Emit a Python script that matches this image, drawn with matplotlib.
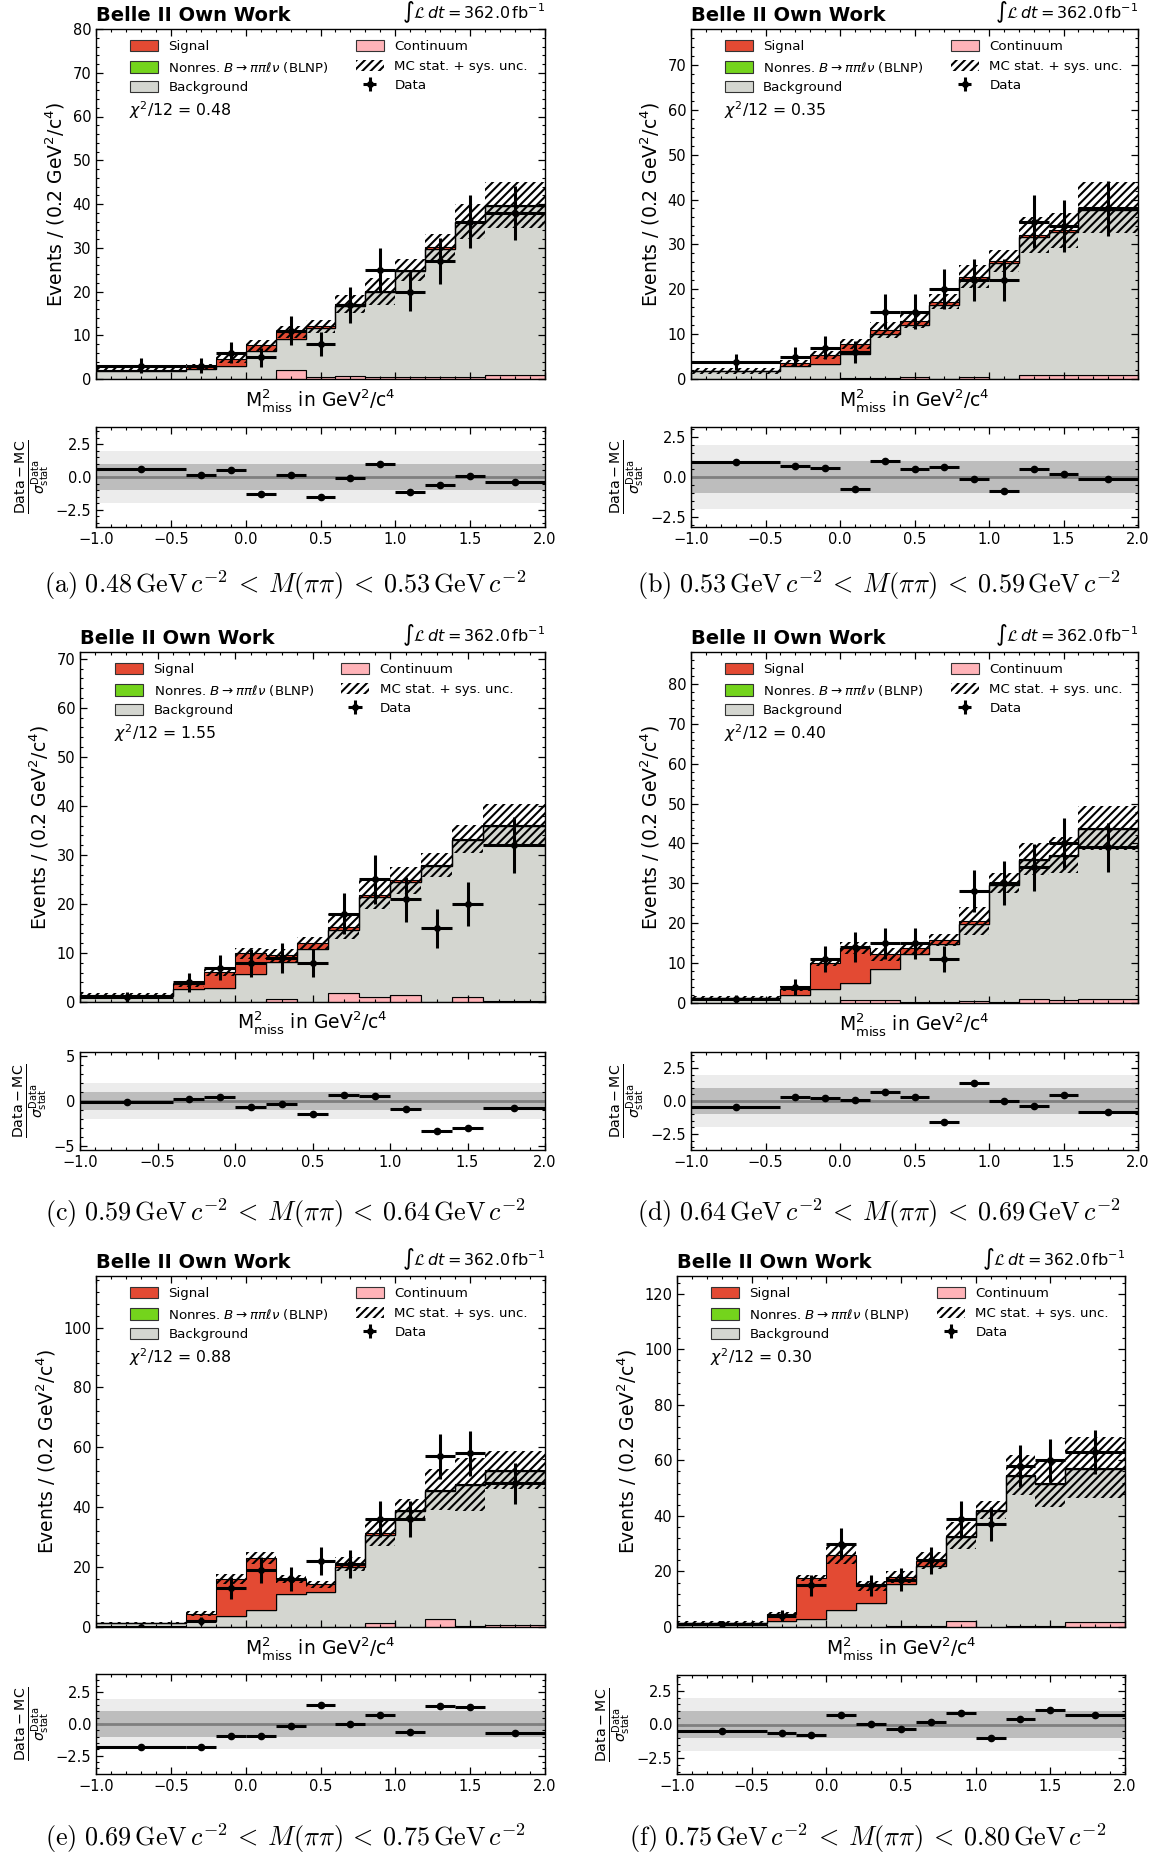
import numpy as np
import matplotlib
matplotlib.use("Agg")
import matplotlib.pyplot as plt
from matplotlib.patches import Patch
from matplotlib.ticker import MultipleLocator, AutoMinorLocator

# ---------------- data ----------------
edges = [-1.0, -0.4, -0.2, 0.0, 0.2, 0.4, 0.6, 0.8, 1.0, 1.2, 1.4, 1.6, 2.0]
panel_tags = ["(a)", "(b)", "(c)", "(d)", "(e)", "(f)"]
mpp_low = ["0.48", "0.53", "0.59", "0.64", "0.69", "0.75"]
mpp_high = ["0.53", "0.59", "0.64", "0.69", "0.75", "0.80"]
chi2_text = ["0.48", "0.35", "1.55", "0.40", "0.88", "0.30"]
nonres = [0.0] * 12

cont_a = [0.0, 0.0, 0.0, 0.1, 2.0, 0.5, 0.7, 0.4, 0.4, 0.5, 0.5, 1.0]
bkg_a = [1.9, 2.3, 3.0, 6.2, 7.1, 11.1, 16.1, 19.4, 24.2, 29.3, 35.3, 38.5]
sig_a = [0.2, 0.5, 1.6, 1.4, 1.6, 0.5, 0.3, 0.3, 0.3, 0.3, 0.2, 0.2]
unc_a = [0.6, 0.6, 1.0, 1.2, 1.4, 1.5, 2.1, 3.1, 2.6, 3.1, 4.0, 5.3]
data_a = [3, 3, 6, 5, 11, 8, 17, 25, 20, 27, 36, 38]
derr_a = [1.7, 1.7, 2.4, 2.2, 3.3, 2.8, 4.1, 5.0, 4.5, 5.2, 6.0, 6.2]
pull_a = [0.62, 0.13, 0.57, -1.29, 0.13, -1.55, -0.05, 1.0, -1.13, -0.62, 0.05, -0.36]

cont_b = [0.1, 0.0, 0.05, 0.2, 0.3, 0.4, 0.1, 0.4, 0.1, 0.8, 0.8, 0.8]
bkg_b = [1.6, 2.9, 3.4, 5.4, 9.7, 11.6, 16.4, 21.8, 25.7, 30.9, 32.0, 36.9]
sig_b = [0.1, 0.6, 2.0, 2.2, 0.9, 0.9, 0.7, 0.6, 0.5, 0.4, 0.3, 0.5]
unc_b = [0.7, 0.7, 0.9, 1.2, 1.7, 1.6, 1.7, 2.5, 2.5, 4.0, 3.8, 5.7]
data_b = [3.7, 5, 7, 6, 15, 15, 20, 22, 22, 35, 34, 38]
derr_b = [1.8, 2.2, 2.6, 2.4, 3.9, 3.9, 4.5, 4.7, 4.7, 5.9, 5.8, 6.2]
pull_b = [0.92, 0.67, 0.59, -0.76, 1.01, 0.48, 0.61, -0.1, -0.9, 0.5, 0.19, -0.1]

cont_c = [0.0, 0.0, 0.0, 0.1, 0.7, 0.1, 1.9, 1.0, 1.4, 0.1, 1.1, 0.2]
bkg_c = [1.3, 2.7, 2.9, 5.6, 7.4, 10.8, 12.7, 20.4, 23.0, 27.6, 32.0, 35.7]
sig_c = [0.05, 1.0, 3.2, 4.2, 1.4, 1.1, 0.8, 0.5, 0.4, 0.3, 0.2, 0.2]
unc_c = [0.4, 0.6, 0.8, 1.2, 1.3, 1.2, 2.6, 3.0, 2.8, 2.4, 2.9, 4.25]
data_c = [1, 4, 7, 8, 9, 8, 18, 25, 21, 15, 20, 32]
derr_c = [1.0, 2.0, 2.6, 2.8, 3.0, 2.8, 4.2, 5.0, 4.6, 3.9, 4.5, 5.7]
pull_c = [-0.15, 0.19, 0.41, -0.68, -0.34, -1.47, 0.64, 0.6, -0.86, -3.35, -2.97, -0.79]

cont_d = [0.0, 0.0, 0.0, 0.8, 0.8, 0.2, 0.2, 0.4, 0.2, 1.0, 0.7, 1.1]
bkg_d = [1.2, 1.9, 3.6, 4.1, 7.8, 12.0, 14.7, 19.5, 29.3, 34.8, 36.1, 42.4]
sig_d = [0.05, 1.7, 6.5, 9.0, 3.6, 1.5, 1.0, 0.7, 0.6, 0.4, 0.3, 0.3]
unc_d = [0.5, 0.7, 0.8, 1.5, 1.6, 1.4, 1.5, 3.5, 2.4, 4.0, 4.4, 5.5]
data_d = [1, 4, 11, 14, 15, 15, 11, 28, 30, 34, 40, 39]
derr_d = [1.0, 2.0, 3.3, 3.7, 3.9, 3.9, 3.3, 5.3, 5.5, 5.8, 6.3, 6.2]
pull_d = [-0.48, 0.33, 0.23, 0.08, 0.7, 0.28, -1.55, 1.38, -0.03, -0.4, 0.45, -0.8]

cont_e = [0.0, 0.0, 0.0, 0.0, 0.1, 0.0, 0.0, 1.5, 0.1, 2.7, 0.4, 0.8]
bkg_e = [1.2, 2.0, 3.7, 5.7, 10.8, 11.7, 19.9, 29.3, 38.5, 42.6, 47.0, 51.4]
sig_e = [0.1, 2.5, 12.3, 17.2, 5.1, 2.6, 1.1, 0.6, 0.6, 0.5, 0.2, 0.3]
unc_e = [0.3, 0.7, 1.6, 2.0, 1.2, 1.2, 2.3, 4.5, 3.6, 6.8, 8.8, 6.4]
data_e = [0, 2, 13, 19, 16, 22, 21, 36, 36, 57, 58, 48]
derr_e = [0.7, 1.4, 3.6, 4.4, 4.0, 4.7, 4.6, 6.0, 6.0, 7.5, 7.6, 6.9]
pull_e = [-1.82, -1.82, -0.92, -0.92, -0.16, 1.53, 0.0, 0.71, -0.6, 1.39, 1.34, -0.71]

cont_f = [0.0, 0.0, 0.0, 0.0, 0.0, 0.3, 0.4, 2.0, 0.1, 0.3, 0.3, 1.7]
bkg_f = [1.5, 2.2, 2.8, 6.2, 8.8, 15.1, 21.7, 30.3, 41.5, 54.1, 51.3, 55.3]
sig_f = [0.1, 2.5, 14.9, 19.7, 6.0, 2.6, 1.8, 0.6, 0.6, 0.4, 0.3, 0.3]
unc_f = [0.4, 0.8, 1.2, 3.2, 1.8, 2.0, 3.0, 4.9, 3.3, 7.3, 8.7, 11.0]
data_f = [1, 4, 15, 30, 15, 17, 24, 39, 37, 58, 60, 63]
derr_f = [1.0, 2.0, 3.9, 5.5, 3.9, 4.1, 4.9, 6.2, 6.1, 7.6, 7.7, 7.9]
pull_f = [-0.5, -0.65, -0.8, 0.73, 0.05, -0.33, 0.15, 0.88, -0.98, 0.43, 1.05, 0.73]

main_ymax = [80, 78, 71.4, 88, 117.2, 126.4]
main_ystep = [10, 10, 10, 10, 20, 20]
pull_ymax = [3.8, 3.15, 5.4, 3.7, 3.95, 3.67]
pull_ystep = [2.5, 2.5, 5, 2.5, 2.5, 2.5]

# ---------------- style ----------------
C_SIG = "#e34a33"
C_NONRES = "#74d41c"
C_BKG = "#d4d6d0"
C_CONT = "#ffb3b8"
plt.rcParams["hatch.linewidth"] = 1.5

W, H = 1163, 1859
fig = plt.figure(figsize=(W / 100, H / 100), dpi=100)


def rect(l, r, t, b):
    return [l / W, 1 - b / H, (r - l) / W, (b - t) / H]


main_px = [(96, 545, 29, 379), (691, 1138, 29, 379),
           (80, 545, 652, 1002), (691, 1138, 652, 1003),
           (96, 545, 1276, 1627), (677, 1125, 1276, 1627)]
pull_px = [(96, 545, 427, 527), (691, 1138, 427, 527),
           (80, 545, 1052, 1150), (691, 1138, 1052, 1150),
           (96, 545, 1674, 1774), (677, 1125, 1675, 1774)]
cap_px = [(285, 585), (879, 585), (285, 1213), (879, 1213), (285, 1838), (868, 1838)]

panels = [
    (cont_a, bkg_a, sig_a, unc_a, data_a, derr_a, pull_a),
    (cont_b, bkg_b, sig_b, unc_b, data_b, derr_b, pull_b),
    (cont_c, bkg_c, sig_c, unc_c, data_c, derr_c, pull_c),
    (cont_d, bkg_d, sig_d, unc_d, data_d, derr_d, pull_d),
    (cont_e, bkg_e, sig_e, unc_e, data_e, derr_e, pull_e),
    (cont_f, bkg_f, sig_f, unc_f, data_f, derr_f, pull_f),
]

e = np.array(edges)
centers = 0.5 * (e[1:] + e[:-1])
halfw = 0.5 * (e[1:] - e[:-1])
HATCH = "////"


def style_ticks(ax):
    ax.tick_params(which="both", direction="in", top=True, right=True)
    ax.tick_params(which="major", length=5, width=0.9, labelsize=10.5)
    ax.tick_params(which="minor", length=2.5, width=0.8)
    ax.xaxis.set_major_locator(MultipleLocator(0.5))
    ax.xaxis.set_minor_locator(MultipleLocator(0.1))
    for s in ax.spines.values():
        s.set_linewidth(1.0)


for i, (cont, bkg, sig, unc, data, derr, pull) in enumerate(panels):
    cont = np.array(cont); bkg = np.array(bkg); sig = np.array(sig)
    nr = np.array(nonres)
    ax = fig.add_axes(rect(*main_px[i]))
    l0 = cont
    l1 = l0 + bkg
    l2 = l1 + nr
    l3 = l2 + sig
    ekw = dict(edgecolor="black", linewidth=0.8)
    ax.stairs(l0, edges, baseline=0, fill=True, facecolor=C_CONT, **ekw)
    ax.stairs(l1, edges, baseline=l0, fill=True, facecolor=C_BKG, **ekw)
    ax.stairs(l2, edges, baseline=l1, fill=True, facecolor=C_NONRES, **ekw)
    ax.stairs(l3, edges, baseline=l2, fill=True, facecolor=C_SIG, **ekw)
    u = np.array(unc)
    ax.stairs(l3 + u, edges, baseline=l3 - u, fill=True, facecolor="none",
              edgecolor="black", linewidth=0, hatch=HATCH)
    eb = ax.errorbar(centers, data, xerr=halfw, yerr=derr, fmt="o", color="black",
                     ms=4, elinewidth=2.2, capsize=0, label="Data")
    ax.set_xlim(-1, 2)
    ax.set_ylim(0, main_ymax[i])
    style_ticks(ax)
    ax.yaxis.set_major_locator(MultipleLocator(main_ystep[i]))
    ax.yaxis.set_minor_locator(AutoMinorLocator(5))
    ax.tick_params(labelbottom=False)
    ax.set_ylabel(r"Events / (0.2 GeV$^2$/c$^4$)", fontsize=13.5)
    ax.set_xlabel(r"M$^2_\mathrm{miss}$ in GeV$^2$/c$^4$", fontsize=13.5, labelpad=2)
    ax.text(0.0, 1.012, "Belle II Own Work", transform=ax.transAxes, fontsize=14,
            fontweight="bold", ha="left", va="bottom")
    ax.text(1.0, 1.012, r"$\int\mathcal{L}\,dt = 362.0\,\mathrm{fb}^{-1}$",
            transform=ax.transAxes, fontsize=11.5, ha="right", va="bottom")
    ax.text(0.073, 0.768, r"$\chi^2$/12 = " + chi2_text[i], transform=ax.transAxes,
            fontsize=11.3, ha="left", va="center")
    hk = dict(edgecolor="#333333", linewidth=0.8)
    handles = [Patch(facecolor=C_SIG, **hk),
               Patch(facecolor=C_NONRES, **hk),
               Patch(facecolor=C_BKG, **hk),
               Patch(facecolor=C_CONT, **hk),
               Patch(facecolor="none", edgecolor="black", linewidth=0, hatch=HATCH),
               eb]
    labels = ["Signal", r"Nonres. $B\rightarrow\pi\pi\ell\nu$ (BLNP)", "Background",
              "Continuum", "MC stat. + sys. unc.", "Data"]
    ax.legend(handles, labels, ncol=2, loc="upper left", bbox_to_anchor=(0.075, 0.968),
              frameon=False, fontsize=9.6, borderaxespad=0, borderpad=0,
              handlelength=2.1, handleheight=0.9, handletextpad=0.8,
              labelspacing=0.47, columnspacing=2.0)

    # pull panel
    axp = fig.add_axes(rect(*pull_px[i]))
    axp.axhspan(-2, 2, color="#ececec", lw=0)
    axp.axhspan(-1, 1, color="#bdbdbd", lw=0)
    axp.axhline(0, color="#7f7f7f", lw=2)
    axp.errorbar(centers, pull, xerr=halfw, fmt="o", color="black", ms=4.5,
                 elinewidth=2.2, capsize=0)
    axp.set_xlim(-1, 2)
    axp.set_ylim(-pull_ymax[i], pull_ymax[i])
    style_ticks(axp)
    axp.yaxis.set_major_locator(MultipleLocator(pull_ystep[i]))
    axp.yaxis.set_minor_locator(AutoMinorLocator(5))
    axp.set_ylabel(r"$\frac{\mathrm{Data}-\mathrm{MC}}{\sigma^{\mathrm{Data}}_{\mathrm{stat}}}$",
                   fontsize=14.5, labelpad=3)

    cx, cy = cap_px[i]
    cap = (r"$\mathrm{" + panel_tags[i] + r"}\ " + mpp_low[i]
           + r"\,\mathrm{GeV}\,c^{-2}\:<\:M(\pi\pi)\:<\:"
           + mpp_high[i] + r"\,\mathrm{GeV}\,c^{-2}$")
    fig.text(cx / W, 1 - cy / H, cap, ha="center", va="center", fontsize=18.8,
             math_fontfamily="cm")

fig.savefig("out.png", dpi=100)
